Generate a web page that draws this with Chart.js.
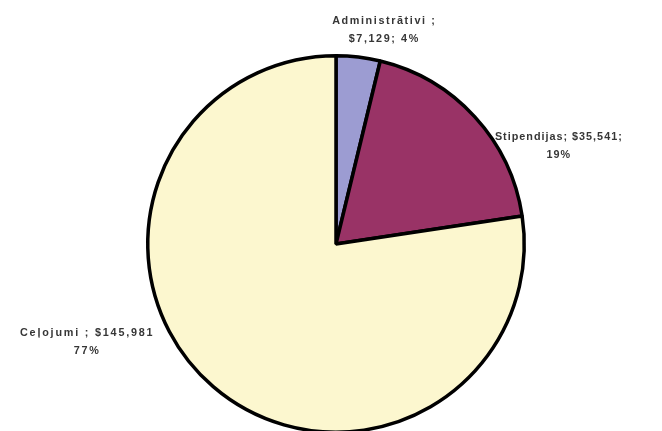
<!DOCTYPE html>
<html>
<head>
<meta charset="utf-8">
<script src="https://cdn.jsdelivr.net/npm/chart.js@4"></script>
<style>
html,body{margin:0;padding:0;background:#fff;overflow:hidden;width:662px;height:431px;}
#wrap{position:relative;width:662px;height:500px;}
</style>
</head>
<body>
<div id="wrap"><canvas id="c" width="662" height="500"></canvas></div>
<script>
const categories = ["Administrātivi", "Stipendijas", "Ceļojumi"];
const values = [7129, 35541, 145981];
const percentLabels = ["4%", "19%", "77%"];
const valueLabels = ["$7,129", "$35,541", "$145,981"];
const colors = ["#9C9CD2", "#993366", "#FCF7CF"];

// label text lines per slice and offsets relative to the arc-edge anchor
const labelLines = [
  [categories[0] + " ;", valueLabels[0] + "; " + percentLabels[0]],
  [categories[1] + "; " + valueLabels[1] + ";", percentLabels[1]],
  [categories[2] + " ; " + valueLabels[2], percentLabels[2]]
];
const labelOffsets = [[26, -27], [84, 29], [-126, -45]];
const labelSpacing = [1.6, 1.0, 1.8];

const labelPlugin = {
  id: 'sliceLabels',
  afterDatasetsDraw(chart) {
    const ctx = chart.ctx;
    const meta = chart.getDatasetMeta(0);
    ctx.save();
    ctx.font = 'bold 10.8px "Liberation Sans", Arial, sans-serif';
    ctx.fillStyle = '#363636';
    ctx.textAlign = 'center';
    ctx.textBaseline = 'middle';
    meta.data.forEach((arc, i) => {
      const p = arc.getProps(['x','y','startAngle','endAngle','outerRadius'], true);
      const mid = (p.startAngle + p.endAngle) / 2;
      const ax = p.x + Math.cos(mid) * p.outerRadius;
      const ay = p.y + Math.sin(mid) * p.outerRadius;
      const cx = ax + labelOffsets[i][0];
      const cy = ay + labelOffsets[i][1];
      ctx.letterSpacing = labelSpacing[i] + 'px';
      const lines = labelLines[i];
      lines.forEach((t, k) => {
        ctx.fillText(t, cx, cy + (k - (lines.length - 1) / 2) * 18);
      });
    });
    ctx.restore();
  }
};

new Chart(document.getElementById('c'), {
  type: 'pie',
  data: {
    labels: categories,
    datasets: [{
      data: values,
      backgroundColor: colors,
      borderColor: '#000000',
      borderWidth: 3.5,
      borderAlign: 'center'
    }]
  },
  options: {
    responsive: false,
    animation: false,
    layout: { padding: { left: 146, right: 136, top: 54, bottom: 66 } },
    plugins: {
      legend: { display: false },
      tooltip: { enabled: false }
    }
  },
  plugins: [labelPlugin]
});
</script>
</body>
</html>
